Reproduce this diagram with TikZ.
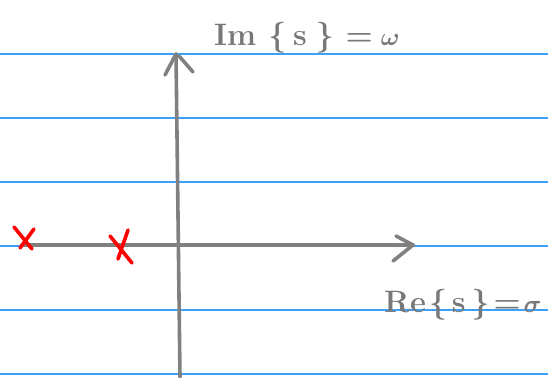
\documentclass[tikz,border=0pt]{standalone}
\usepackage{fontspec}
\begin{document}
\begin{tikzpicture}[x=1pt,y=-1pt,
  grid/.style={draw={rgb,255:red,60;green,160;blue,250},line width=1.2pt},
  axis/.style={draw={rgb,255:red,128;green,128;blue,128},line width=3.6pt,line cap=round,line join=round},
  pole/.style={draw=red,line width=3.6pt,line cap=round},
  lbl/.style={text={rgb,255:red,120;green,120;blue,120},anchor=base west,inner sep=0pt,font=\fontsize{31}{34}\selectfont\bfseries\mathversion{bold}}]
\useasboundingbox (0,0) rectangle (548,377);
\foreach \y in {54,118,182,246,310,374}{\draw[grid] (0,\y) -- (548,\y);}
% axes
\coordinate (hs) at (22,245);
\coordinate (he) at (413,245);
\coordinate (vs) at (180,377);
\coordinate (ve) at (176,54);
\draw[axis] (hs) -- (he);
\draw[axis] (vs) -- (ve);
\draw[axis] (396,236) -- (he) -- (393,261);
\draw[axis] (165,75) -- (ve);
\draw[axis] (179,56) -- (193,72);
% poles
\draw[pole] (14,227) -- (32,249);
\draw[pole] (34,229) -- (20,248);
\draw[pole] (110,236) -- (132,263);
\draw[pole] (128,230) -- (118,259);
% labels
\node[lbl] (im) at (214,46) {Im\hspace{12pt}\{\hspace{7pt}s\hspace{9pt}\}\hspace{12pt}=\hspace{8pt}$\omega$};
\node[lbl] (re) at (384,312) {Re\hspace{3pt}\{\hspace{5pt}s\hspace{6pt}\}\hspace{4pt}=\hspace{3pt}$\sigma$};
\end{tikzpicture}
\end{document}
